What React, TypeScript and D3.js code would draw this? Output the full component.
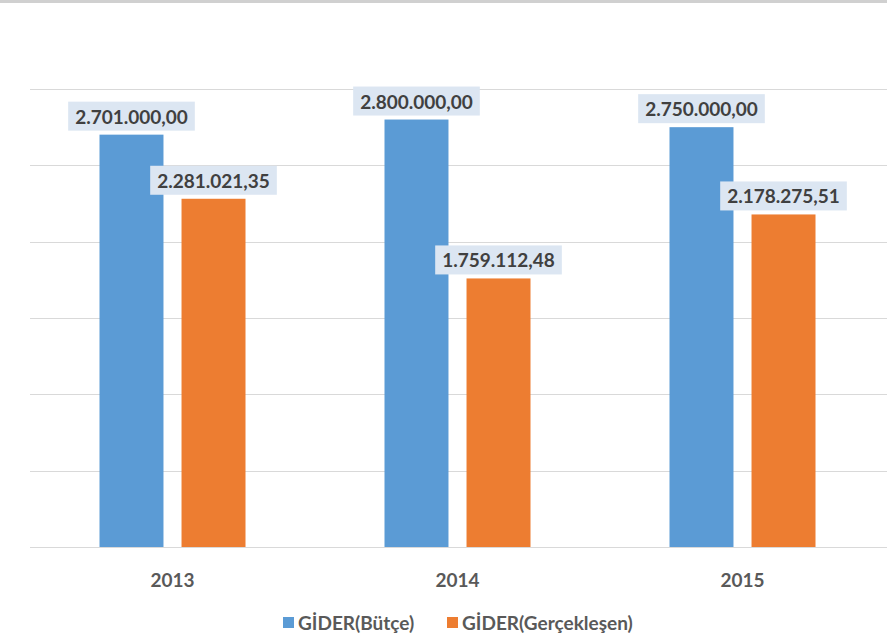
import React from "react";
import * as d3 from "d3";

const years = ["2013", "2014", "2015"];
const seriesNames = ["GİDER(Bütçe)", "GİDER(Gerçekleşen)"];
const butce = [2701000.0, 2800000.0, 2750000.0];
const gerceklesen = [2281021.35, 1759112.48, 2178275.51];
const yTicks = [0, 500000, 1000000, 1500000, 2000000, 2500000, 3000000];

const colors = ["#5b9bd5", "#ed7d31"];
const font = "Lato, 'Open Sans', sans-serif";

const fmt = (v: number) => {
  const [i, d] = v.toFixed(2).split(".");
  return i.replace(/\B(?=(\d{3})+(?!\d))/g, ".") + "," + d;
};

export default function App() {
  const ref = React.useRef<SVGSVGElement>(null);

  React.useEffect(() => {
    const svg = d3.select(ref.current);
    svg.selectAll("*").remove();
    const width = 887;
    const height = 641;
    const margin = { top: 89, right: 2, bottom: 94, left: 30 };

    const x = d3
      .scaleBand()
      .domain(years)
      .range([margin.left, width - margin.right]);
    const x1 = d3
      .scaleBand()
      .domain(["0", "1"])
      .range([0, 146])
      .paddingInner(0.22);
    const y = d3
      .scaleLinear()
      .domain([0, 3000000])
      .range([height - margin.bottom, margin.top]);

    // top border
    svg
      .append("rect")
      .attr("x", 0)
      .attr("y", 0)
      .attr("width", width)
      .attr("height", 3)
      .attr("fill", "#d0d0d0");

    svg
      .append("g")
      .selectAll("line")
      .data(yTicks)
      .join("line")
      .attr("x1", margin.left)
      .attr("x2", width)
      .attr("y1", (d) => Math.round(y(d)) + 0.5)
      .attr("y2", (d) => Math.round(y(d)) + 0.5)
      .attr("stroke", "#d9d9d9")
      .attr("stroke-width", 1);

    const data = years.map((yr, i) => ({
      yr,
      vals: [butce[i], gerceklesen[i]],
    }));

    const groups = svg
      .append("g")
      .selectAll("g")
      .data(data)
      .join("g")
      .attr("transform", (d) => `translate(${x(d.yr)! + x.bandwidth() / 2 - 73},0)`);

    groups
      .selectAll("rect")
      .data((d) => d.vals.map((v, j) => ({ v, j })))
      .join("rect")
      .attr("x", (d) => x1(String(d.j))!)
      .attr("width", x1.bandwidth())
      .attr("y", (d) => y(d.v))
      .attr("height", (d) => y(0) - y(d.v))
      .attr("fill", (d) => colors[d.j]);

    const labels = groups
      .selectAll("g.lbl")
      .data((d) => d.vals.map((v, j) => ({ v, j })))
      .join("g")
      .attr("class", "lbl");

    labels.each(function (d) {
      const g = d3.select(this);
      const cx = x1(String(d.j))! + x1.bandwidth() / 2;
      const t = g
        .append("text")
        .attr("x", cx)
        .attr("y", y(d.v) - 11)
        .attr("text-anchor", "middle")
        .attr("font-family", font)
        .attr("font-weight", "bold")
        .attr("font-size", 19)
        .attr("fill", "#404040")
        .text(fmt(d.v));
      const w = (t.node() as SVGTextElement).getComputedTextLength();
      g.insert("rect", "text")
        .attr("x", cx - w / 2 - 7)
        .attr("y", y(d.v) - 33)
        .attr("width", w + 14)
        .attr("height", 29)
        .attr("fill", "#dce6f2");
    });

    svg
      .append("g")
      .selectAll("text")
      .data(years)
      .join("text")
      .attr("x", (d) => x(d)! + x.bandwidth() / 2)
      .attr("y", 587)
      .attr("text-anchor", "middle")
      .attr("font-family", font)
      .attr("font-weight", "bold")
      .attr("font-size", 19)
      .attr("fill", "#595959")
      .text((d) => d);

    const legendX = [283, 447];
    const legend = svg
      .append("g")
      .selectAll("g")
      .data(seriesNames)
      .join("g")
      .attr("transform", (d, i) => `translate(${legendX[i]},0)`);
    legend
      .append("rect")
      .attr("x", 0)
      .attr("y", 617)
      .attr("width", 11)
      .attr("height", 11)
      .attr("fill", (d, i) => colors[i]);
    legend
      .append("text")
      .attr("x", 15)
      .attr("y", 630)
      .attr("font-family", font)
      .attr("font-weight", "bold")
      .attr("font-size", 19)
      .attr("fill", "#595959")
      .text((d) => d);
  }, []);

  return (
    <svg
      ref={ref}
      width={887}
      height={641}
      style={{ position: "absolute", left: 0, top: 0, background: "#fff" }}
    />
  );
}
